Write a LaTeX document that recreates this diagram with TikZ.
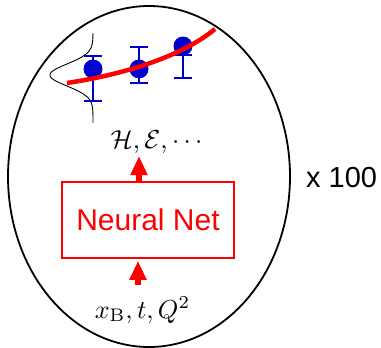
\documentclass[tikz,border=0pt]{standalone}
\usepackage{fontspec}
\newfontfamily\arial{Liberation Sans}
\usetikzlibrary{arrows.meta}
\definecolor{dotblue}{RGB}{0,0,204}
\tikzset{
  bigarrow/.style={red, line width=6pt, -{Triangle[width=16pt,length=19pt]}},
  errbar/.style={dotblue, line width=2pt},
  datadot/.style={circle, fill=dotblue, inner sep=0pt, minimum size=19pt},
  mathlabel/.style={inner sep=0pt, font=\fontsize{10}{12}\selectfont, scale=2.6},
}
\begin{document}
\begin{tikzpicture}[x=1pt,y=-1pt]
\useasboundingbox (0,0) rectangle (381,348);
% outer ellipse
\draw[line width=1.8pt] (149,176.5) ellipse [x radius=141, y radius=170.5];
% gaussian
\draw[line width=0.9pt] plot[domain=33:123, samples=90, smooth] ({93-43*exp(-((\x-75)*(\x-75))/242)}, \x);
% error bars
\draw[errbar] (84,56) -- (102,56) (93,56) -- (93,101) (84,101) -- (102,101);
\draw[errbar] (130,47) -- (148,47) (139,47) -- (139,83) (130,83) -- (148,83);
\draw[errbar] (174,55) -- (192,55) (183,55) -- (183,78) (174,78) -- (192,78);
\node[datadot] (d1) at (93,69) {};
\node[datadot] (d2) at (139,69) {};
\node[datadot] (d3) at (183,46) {};
% fit curve
\draw[red, line width=4.5pt] (67,83) .. controls (120,75) and (180,58) .. (215,29);
% neural net box
\node[draw=red, line width=1.6pt, minimum width=172pt, minimum height=76pt, inner sep=0pt,
      text=red, font=\arial\fontsize{30}{34}\selectfont] (nn) at (148,220) {Neural Net};
% labels
\node[mathlabel, anchor=base] (out) at (156.5,148) {$\mathcal{H},\mathcal{E},\cdots$};
\node[mathlabel, anchor=base] (in) at (142.5,318) {$x_{\mathrm{B}},t,Q^2$};
\node[inner sep=0pt, anchor=base west, font=\arial\fontsize{29}{33}\selectfont] (times) at (306,187) {x 100};
% arrows
\coordinate (a1) at (139,156);
\coordinate (b0) at (138,285);
\draw[bigarrow] (a1 |- nn.north) -- (a1);
\draw[bigarrow, shorten >=2pt] (b0) -- (b0 |- nn.south);
\end{tikzpicture}
\end{document}
